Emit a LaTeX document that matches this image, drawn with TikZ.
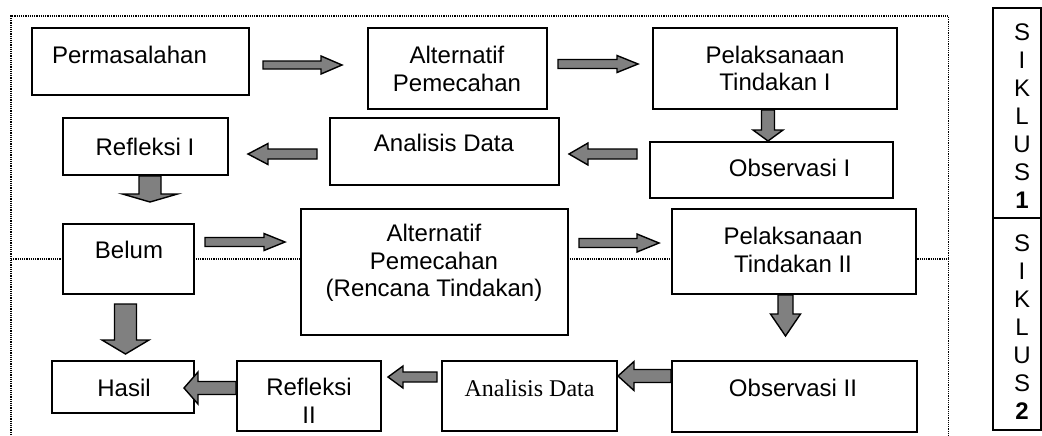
\documentclass[tikz,border=0pt]{standalone}
\usepackage{fontspec}
\setmainfont{Liberation Sans}
\newfontfamily\timesfont{Liberation Serif}
\usetikzlibrary{calc,fit}
\definecolor{arrowgray}{RGB}{128,128,128}
\tikzset{
  box/.style={draw, line width=1pt, fill=white, inner sep=0pt},
  txt/.style={inner sep=0pt, align=center, font=\fontsize{12}{13.8}\selectfont},
  siktxt/.style={inner sep=0pt, align=center, font=\fontsize{12}{14}\selectfont},
  frameline/.style={line width=0.9pt, dash pattern=on 0.6pt off 0.5pt},
  barrow/.style={draw, line width=0.7pt, fill=arrowgray, line join=miter},
}
% block arrows: #1 start, #2 end, #3 half shaft (px), #4 half head (px), #5 head length (px)
\newcommand\blkR[5]{%
  \draw[barrow] let \p1=(#1), \p2=(#2) in
    (\x1,{\y1+#3*0.5pt}) -- ({\x2-#5*0.5pt},{\y1+#3*0.5pt}) -- ({\x2-#5*0.5pt},{\y1+#4*0.5pt})
    -- (\x2,\y1) -- ({\x2-#5*0.5pt},{\y1-#4*0.5pt}) -- ({\x2-#5*0.5pt},{\y1-#3*0.5pt})
    -- (\x1,{\y1-#3*0.5pt}) -- cycle;}
\newcommand\blkL[5]{%
  \draw[barrow] let \p1=(#1), \p2=(#2) in
    (\x1,{\y1+#3*0.5pt}) -- ({\x2+#5*0.5pt},{\y1+#3*0.5pt}) -- ({\x2+#5*0.5pt},{\y1+#4*0.5pt})
    -- (\x2,\y1) -- ({\x2+#5*0.5pt},{\y1-#4*0.5pt}) -- ({\x2+#5*0.5pt},{\y1-#3*0.5pt})
    -- (\x1,{\y1-#3*0.5pt}) -- cycle;}
\newcommand\blkD[5]{%
  \draw[barrow] let \p1=(#1), \p2=(#2) in
    ({\x1-#3*0.5pt},\y1) -- ({\x1-#3*0.5pt},{\y2+#5*0.5pt}) -- ({\x1-#4*0.5pt},{\y2+#5*0.5pt})
    -- (\x1,\y2) -- ({\x1+#4*0.5pt},{\y2+#5*0.5pt}) -- ({\x1+#3*0.5pt},{\y2+#5*0.5pt})
    -- ({\x1+#3*0.5pt},\y1) -- cycle;}
\begin{document}
\begin{tikzpicture}[x=0.5pt, y=-0.5pt]
\useasboundingbox (0,0) rectangle (1042,435);
% dotted frame
\draw[frameline] (11,435) -- (11,16) -- (948.5,16) -- (948.5,435);
\draw[frameline] (11,259) -- (948.5,259);
% boxes
\node[box, fit={(32,28) (249,95)}] (perm) {};
\node[box, fit={(368,28) (547,109)}] (alt1) {};
\node[box, fit={(653,28) (897,109)}] (pel1) {};
\node[box, fit={(650,142) (893,198)}] (obs1) {};
\node[box, fit={(330,118) (559,185)}] (ana1) {};
\node[box, fit={(63,118) (228,175)}] (ref1) {};
\node[box, fit={(63,224) (194,294)}] (belum) {};
\node[box, fit={(301,209) (568,335)}] (alt2) {};
\node[box, fit={(672,209) (916,294)}] (pel2) {};
\node[box, fit={(672,361) (917,432)}] (obs2) {};
\node[box, fit={(442,361) (617,431)}] (ana2) {};
\node[box, fit={(237,361) (381,431)}] (ref2) {};
\node[box, fit={(52,361) (194,413)}] (hasil) {};
\node[box, fit={(993,8) (1041,218)}] (sik1) {};
\node[box, fit={(993,218) (1041,430)}] (sik2) {};
% texts
\node[txt] (permT) at (129.5,55) {Permasalahan};
\node[txt] (alt1T) at (457,69) {Alternatif\\Pemecahan};
\node[txt] (pel1T) at (775,68.5) {Pelaksanaan\\Tindakan I};
\node[txt] (obs1T) at (789.5,168) {Observasi I};
\node[txt] (ana1T) at (444,143) {Analisis Data};
\node[txt] (ref1T) at (145,147) {Refleksi I};
\node[txt] (belumT) at (129,250) {Belum};
\node[txt] (alt2T) at (434,263) {Alternatif\\Pemecahan\\(Rencana Tindakan)};
\node[txt] (pel2T) at (793,250) {Pelaksanaan\\Tindakan II};
\node[txt] (obs2T) at (793,388) {Observasi II};
\node[txt, font=\timesfont\fontsize{12}{13.8}\selectfont] (ana2T) at (529.5,388) {Analisis Data};
\node[txt] (ref2T) at (309,401) {Refleksi\\II};
\node[txt] (hasilT) at (124,388) {Hasil};
\node[siktxt] (sik1T) at (1022,116) {S\\I\\K\\L\\U\\S\\\textbf{1}};
\node[siktxt] (sik2T) at (1022,327.5) {S\\I\\K\\L\\U\\S\\\textbf{2}};
% block arrows
\blkR{$(perm.east)+(13,3.5)$}{$(alt1.west)+(-25,0)$}{4}{9}{21}
\blkR{$(alt1.east)+(10,-4.5)$}{$(pel1.west)+(-14,0)$}{4.5}{8.5}{21}
\blkD{$(pel1.south)+(-7,0)$}{obs1.north}{6.5}{15}{11}
\blkL{$(obs1.west)+(-12,-16)$}{$(ana1.east)+(9,0)$}{5}{11}{19}
\blkL{$(ana1.west)+(-12,2.5)$}{$(ref1.east)+(19,0)$}{5}{10.5}{20}
\blkD{$(ref1.south)+(4.5,0)$}{$(belum.north)+(0,-21)$}{11}{27.5}{8}
\blkR{$(belum.east)+(10,-17)$}{$(alt2.west)+(-15,0)$}{4.5}{8.5}{21}
\blkR{$(alt2.east)+(10,-29)$}{$(pel2.west)+(-12,0)$}{4.5}{9}{22}
\blkD{$(pel2.south)+(-8.5,0)$}{$(obs2.north)+(0,-24)$}{7.5}{15}{22}
\blkL{$(obs2.west)+(0,-20.5)$}{ana2.east}{6.5}{14.5}{16}
\blkL{$(ana2.west)+(-4,-19)$}{$(ref2.east)+(6,0)$}{5}{11}{15}
\blkL{$(ref2.west)+(0,-8)$}{$(hasil.east)+(-11,0)$}{6.5}{16}{14}
\blkD{$(belum.south)+(-3,9)$}{$(hasil.north)+(0,-6)$}{11}{23.5}{14}
\end{tikzpicture}
\end{document}
